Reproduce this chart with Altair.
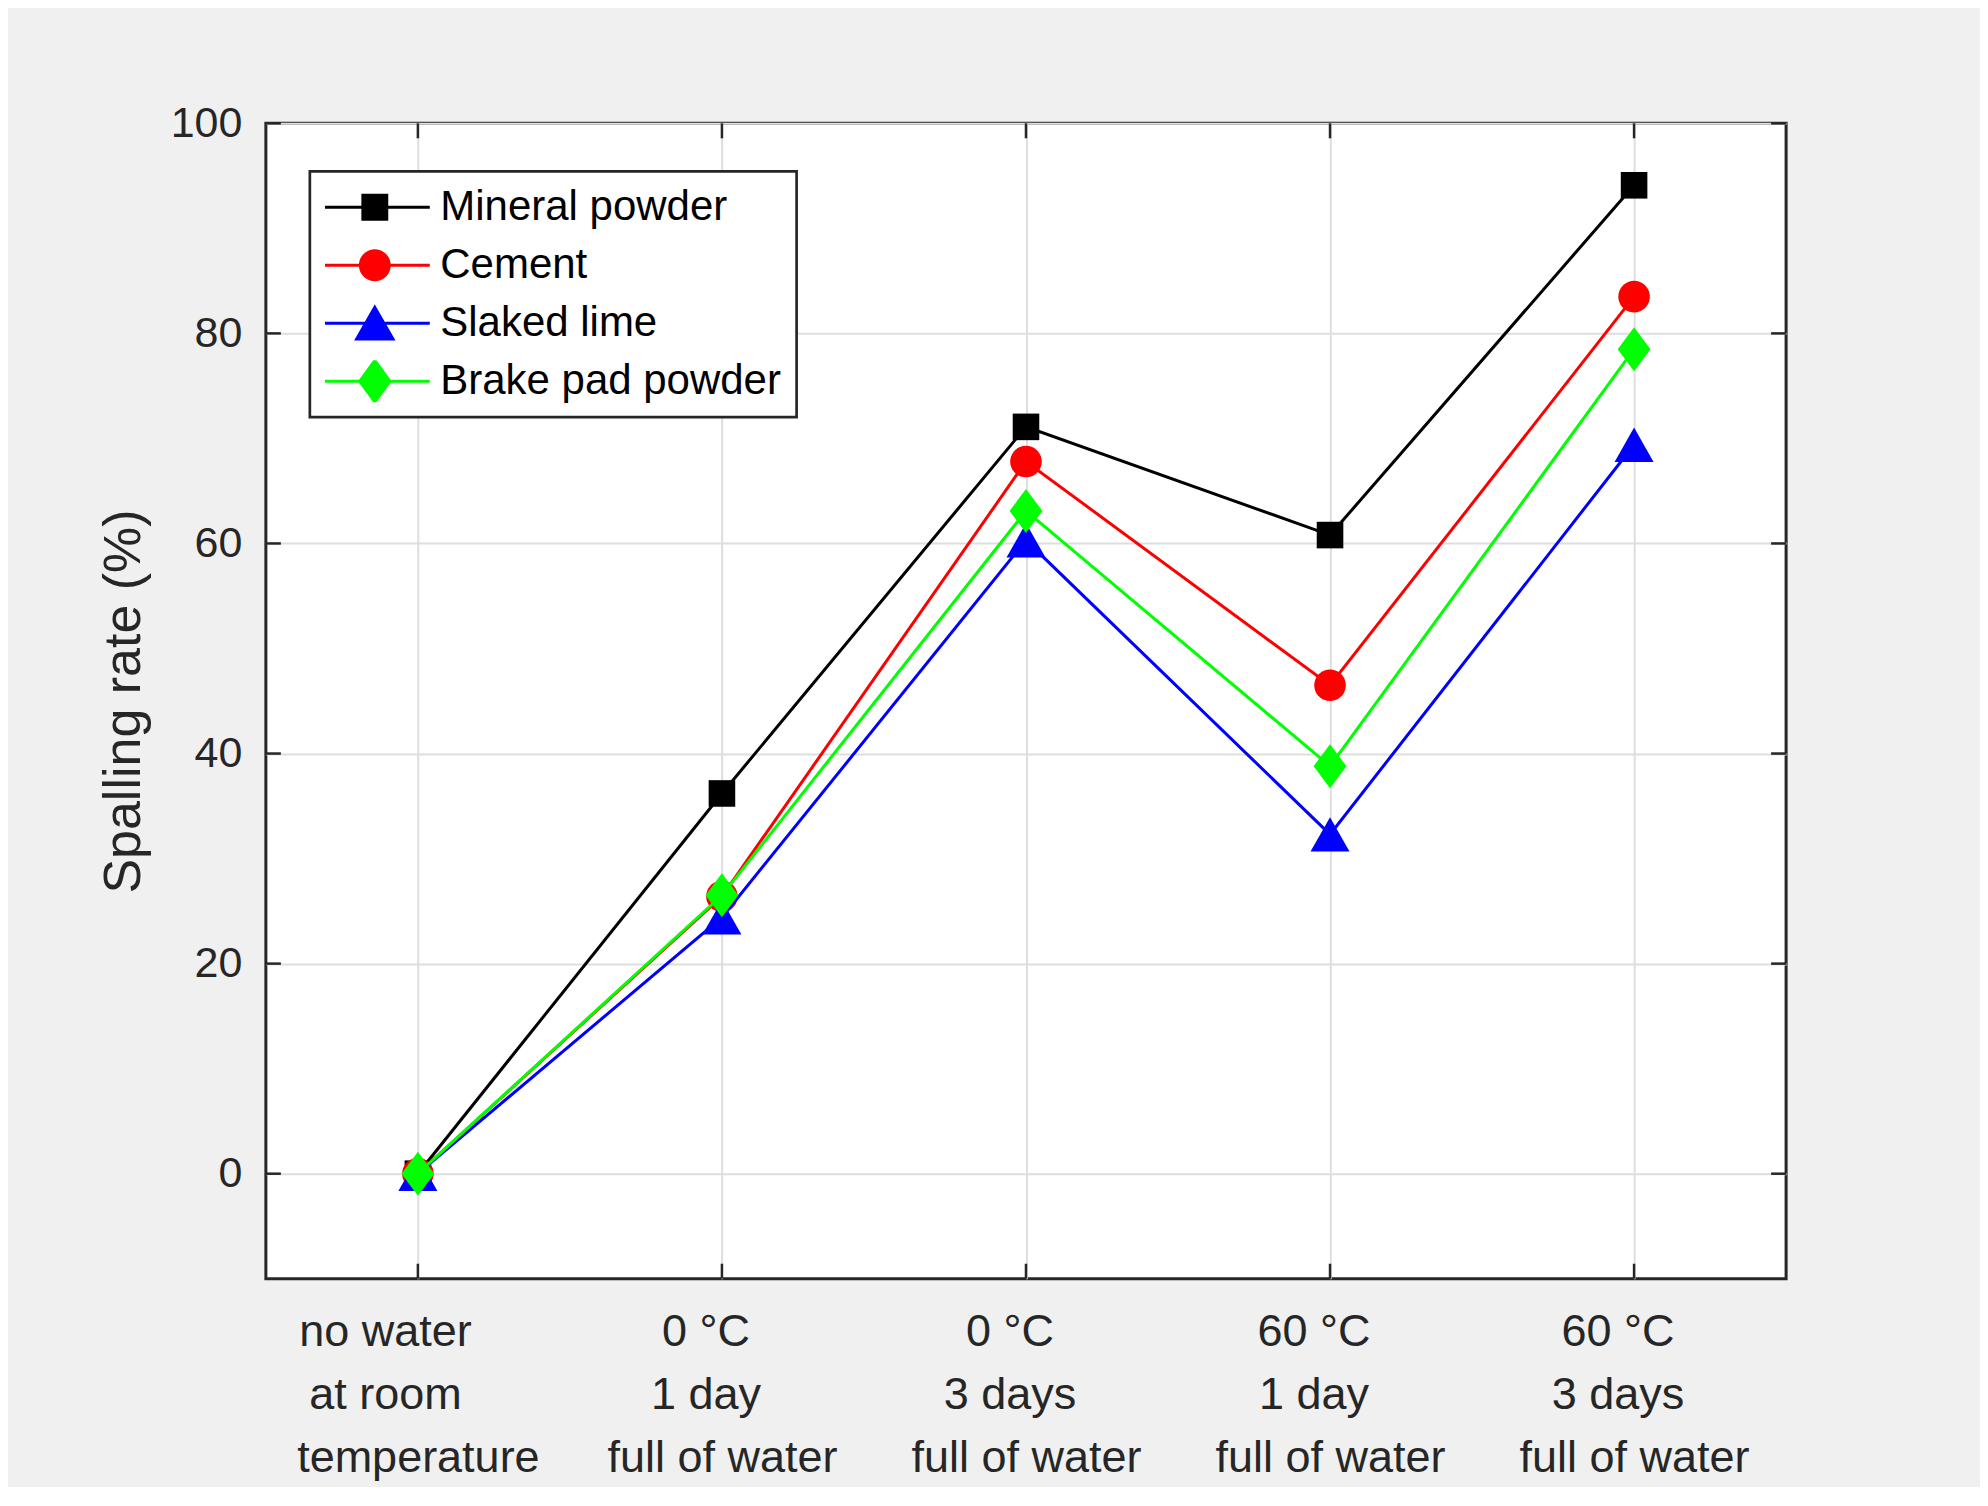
import json
import math
import altair as alt
import pandas as pd

# ---------------- data ----------------
categories = [
    ["no water", "at room", "temperature"],
    ["0 °C", "1 day", "full of water"],
    ["0 °C", "3 days", "full of water"],
    ["60 °C", "1 day", "full of water"],
    ["60 °C", "3 days", "full of water"],
]
cat_pos = [1, 2, 3, 4, 5]
series_names = ["Mineral powder", "Cement", "Slaked lime", "Brake pad powder"]
mineral_powder = [0, 36.2, 71.1, 60.8, 94.1]
cement = [0, 26.4, 67.8, 46.5, 83.5]
slaked_lime = [0, 24.4, 60.3, 32.3, 69.4]
brake_pad_powder = [0, 26.5, 63.1, 38.8, 78.5]
y_ticks = [0, 20, 40, 60, 80, 100]

values = [mineral_powder, cement, slaked_lime, brake_pad_powder]
rows = []
for name, vals in zip(series_names, values):
    for p, v in zip(cat_pos, vals):
        rows.append({"series": name, "x": p, "value": v})
df = pd.DataFrame(rows)

# ---------------- style ----------------
W, H = 1521, 1156
DARK = "#262626"
GRID = "#dedede"
FONT = "Liberation Sans"
colors = ["#000000", "#ff0000", "#0000ff", "#00ff00"]

S = 86.0            # nominal symbol box (px)
U = S / 2.0         # px per path unit
S2 = S * S


def f(v):
    return f"{v / U:.4f}"


def square(h):
    return f"M{f(-h)},{f(-h)}L{f(h)},{f(-h)}L{f(h)},{f(h)}L{f(-h)},{f(h)}Z"


def circle(r, n=36):
    pts = []
    for i in range(n):
        a = 2 * math.pi * i / n
        pts.append(f"{f(r * math.cos(a))},{f(r * math.sin(a))}")
    return "M" + "L".join(pts) + "Z"


def triangle(hw, hh):
    return f"M0,{f(-hh)}L{f(hw)},{f(hh)}L{f(-hw)},{f(hh)}Z"


def diamond(hw, hh):
    return f"M0,{f(-hh)}L{f(hw)},0L0,{f(hh)}L{f(-hw)},0Z"


def hline(a, b):
    return f"M{f(-a)},0L{f(b)},0"


marker_paths = [square(13.3), circle(15.8), triangle(19.5, 17.2), diamond(16.4, 22.0)]
sw = 1.35
legend_paths = [
    square(13.3 - sw) + hline(50, 55),
    circle(15.8 - sw) + hline(50, 55),
    triangle(19.5 - sw, 17.2 - sw) + hline(50, 55),
    diamond(16.4 - sw, 22.0 - sw) + hline(50, 55),
]

# blank padding glyphs mimic the slight left shift of the original label lines
PADCH = "\u2800"
pad_counts = [[2, 2, 0], [1, 1, 0], [1, 1, 0], [1, 1, 0], [1, 1, 0]]
label_lines = [
    [line + PADCH * n for line, n in zip(lines, counts)]
    for lines, counts in zip(categories, pad_counts)
]
label_expr = json.dumps(label_lines, ensure_ascii=False) + "[datum.value - 1]"

x_enc = alt.X(
    "x:Q",
    scale=alt.Scale(domain=[0.5, 5.5], nice=False, zero=False),
    axis=alt.Axis(
        values=cat_pos, labelExpr=label_expr, grid=True, gridColor=GRID, gridWidth=2,
        ticks=False, domain=False, labelFont=FONT, labelFontSize=45, labelColor=DARK,
        labelPadding=31, labelLineHeight=63, labelAngle=0, labelOverlap=False,
        labelFlush=False, labelLimit=0, title=None,
    ),
)
y_enc = alt.Y(
    "value:Q",
    scale=alt.Scale(domain=[-10, 100], nice=False, zero=False),
    axis=alt.Axis(
        values=y_ticks, grid=True, gridColor=GRID, gridWidth=2, ticks=False, domain=False,
        labelFont=FONT, labelFontSize=43, labelColor=DARK, labelPadding=24,
        title="Spalling rate (%)", titleFont=FONT, titleFontSize=52, titleColor=DARK,
        titleFontWeight="normal", titlePadding=20,
    ),
)

base = alt.Chart(df)
layers = []
for name, col, path in zip(series_names, colors, marker_paths):
    sel = base.transform_filter(alt.datum.series == name)
    layers.append(sel.mark_line(color=col, strokeWidth=3).encode(x=x_enc, y=y_enc))
    layers.append(
        sel.mark_point(shape=path, filled=True, size=S2, color=col, opacity=1, strokeWidth=0)
        .encode(x=x_enc, y=y_enc)
    )

# inward ticks on all four sides
xt = pd.DataFrame({"x": cat_pos})
yt = pd.DataFrame({"value": y_ticks})
TL = 15
tick_style = dict(color=DARK, strokeWidth=2.5)
layers.append(alt.Chart(xt).mark_rule(**tick_style).encode(x=x_enc, y=alt.value(H), y2=alt.value(H - TL)))
layers.append(alt.Chart(xt).mark_rule(**tick_style).encode(x=x_enc, y=alt.value(0), y2=alt.value(TL)))
layers.append(alt.Chart(yt).mark_rule(**tick_style).encode(y=y_enc, x=alt.value(0), x2=alt.value(TL)))
layers.append(alt.Chart(yt).mark_rule(**tick_style).encode(y=y_enc, x=alt.value(W), x2=alt.value(W - TL)))

# legend layer (no visible marks, only legend)
leg = alt.Legend(
    title=None, orient="none", legendX=44, legendY=48, strokeColor=DARK, fillColor="white",
    padding=15, rowPadding=16, clipHeight=42, symbolSize=S2, symbolStrokeWidth=3,
    symbolOpacity=1, symbolOffset=5.5, labelOffset=21, labelFont=FONT, labelFontSize=42,
    labelColor="#000000", labelLimit=0,
)
legend_layer = (
    base.transform_filter("false")
    .mark_point(opacity=1, size=S2, strokeWidth=3, filled=True)
    .encode(
        x=x_enc, y=y_enc,
        fill=alt.Fill("series:N", scale=alt.Scale(domain=series_names, range=colors), legend=leg),
        stroke=alt.Stroke("series:N", scale=alt.Scale(domain=series_names, range=colors), legend=leg),
        shape=alt.Shape("series:N", scale=alt.Scale(domain=series_names, range=legend_paths), legend=leg),
    )
)
layers.append(legend_layer)

chart = (
    alt.layer(*layers)
    .properties(
        width=W, height=H,
        autosize=alt.AutoSizeParams(type="none"),
        padding={"left": 258, "top": 115, "right": 194, "bottom": 208},
        background="#f0f0f0",
    )
    .configure_view(fill="white", stroke=DARK, strokeWidth=3)
    .configure_legend(strokeWidth=2.7)
)

chart.save("out.html", embed_options={"renderer": "svg", "actions": False})
